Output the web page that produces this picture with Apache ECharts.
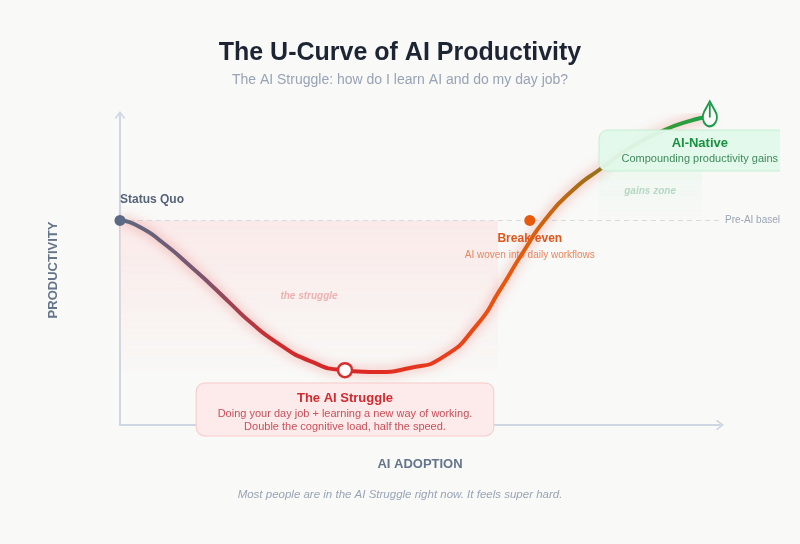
<!DOCTYPE html>
<html lang="en">
<head>
<meta charset="UTF-8">
<title>The U-Curve of AI Productivity</title>
<style>
    body { margin: 0; background: #f9f9f7; }
    #main { width: 780px; height: 544px; }
</style>
</head>
<body>
<div id="main"></div>
<script src="https://cdn.jsdelivr.net/npm/echarts@6.0.0/dist/echarts.min.js"></script>
<script>
// curve (x = adoption 0..100, y = productivity 0..100)
const adoption = [0, 3.3, 7.2, 11.7, 15, 18.3, 21.7, 26.2, 31.7, 37.2, 42.8, 48.3, 53.8, 59.5, 63.3, 67.2, 70.8, 75.5, 80.3, 85, 90, 95, 98.3];
const productivity = [66.1, 63.9, 58.7, 51.3, 45.5, 39.4, 33.2, 26.5, 20.6, 17.7, 17.1, 18.4, 21.9, 32.3, 43.5, 55.8, 66.1, 75.8, 82.9, 89.4, 94.5, 98.1, 99.4];
const baseline = 66;

const milestoneNames = ['Status Quo', 'The AI Struggle', 'Break-even', 'AI-Native'];
const milestoneX = [0, 37.5, 68.3, 98.3];
const milestoneY = [66, 17.7, 66, 99.4];
const milestoneNotes = [
    '',
    'Doing your day job + learning a new way of working.\nDouble the cognitive load, half the speed.',
    'AI woven into daily workflows',
    'Compounding productivity gains'
];

const struggleZone = [[0, 66], [63, 17.1]];
const gainsZone = [[79.7, 66], [97, 85]];

let ff = "'Liberation Sans', Arial, Helvetica, sans-serif";
let chart = echarts.init(document.getElementById('main'));

let curve = adoption.map((x, i) => [x, productivity[i]]);
let pt = i => [milestoneX[i], milestoneY[i]];
let notes = i => milestoneNotes[i].split('\n').map(s => '{d|' + s + '}').join('\n');
let arrowHead = 'path://M0,8 L6,0 L12,8 L10.6,9.2 L6,3 L1.4,9.2 Z';
let pin = 'path://M10,0 L3.5,9 A8,8 0 1,0 16.5,9 Z M10,2.5 L10,14';

let noAxisBits = {
    axisTick: {show: false},
    axisLabel: {show: false},
    splitLine: {show: false}
};
let axisLine = {
    show: true,
    symbol: ['none', arrowHead],
    symbolSize: [12, 8],
    lineStyle: {color: '#cdd6e2', width: 2}
};
let axisName = {fontSize: 13, fontWeight: 'bold', color: '#64748b', fontFamily: ff};

let option = {
    textStyle: {fontFamily: ff},
    animation: false,
    grid: {left: 120, right: 60, top: 115, bottom: 119},
    xAxis: Object.assign({
        type: 'value', min: 0, max: 100,
        axisLine: axisLine,
        name: 'AI ADOPTION', nameLocation: 'middle', nameGap: 33,
        nameTextStyle: axisName
    }, noAxisBits),
    yAxis: Object.assign({
        type: 'value', min: 0, max: 100,
        axisLine: axisLine,
        name: 'PRODUCTIVITY', nameLocation: 'middle', nameGap: 60, nameRotate: 90,
        nameTextStyle: axisName
    }, noAxisBits),
    graphic: [
        {type: 'text', x: 400, y: 53, style: {text: 'The U-Curve of AI Productivity', font: 'bold 25px ' + ff, fill: '#1d2433', textAlign: 'center', textVerticalAlign: 'middle'}},
        {type: 'text', x: 400, y: 80, style: {text: 'The AI Struggle: how do I learn AI and do my day job?', font: '14px ' + ff, fill: '#97a3b6', textAlign: 'center', textVerticalAlign: 'middle'}},
        {type: 'text', x: 400, y: 495, style: {text: 'Most people are in the AI Struggle right now. It feels super hard.', font: 'italic 11.5px ' + ff, fill: '#98a4b6', textAlign: 'center', textVerticalAlign: 'middle'}}
    ],
    series: [
        {
            // zones and the pre-AI baseline, lowest layer
            name: 'zones',
            type: 'scatter', z: 1,
            data: [],
            markLine: {
                z: 1,
                silent: true, symbol: 'none',
                data: [{yAxis: baseline}],
                lineStyle: {type: [5, 4], color: '#d7dbe2', width: 1.2},
                label: {position: 'end', formatter: 'Pre-AI baseline', color: '#9aa5b6', fontSize: 10, distance: 5}
            },
            markArea: {
                z: 1,
                silent: true,
                data: [
                    [{xAxis: struggleZone[0][0], yAxis: struggleZone[0][1],
                      itemStyle: {color: new echarts.graphic.LinearGradient(0, 0, 0, 1, [
                          {offset: 0, color: 'rgba(250,222,222,0.55)'},
                          {offset: 1, color: 'rgba(250,222,222,0.03)'}
                      ])},
                      label: {show: true, position: 'inside', formatter: 'the struggle', fontSize: 10, fontStyle: 'italic', fontWeight: 'bold', color: '#edb1b1'}},
                     {xAxis: struggleZone[1][0], yAxis: struggleZone[1][1]}],
                    [{xAxis: gainsZone[0][0], yAxis: gainsZone[0][1],
                      itemStyle: {color: new echarts.graphic.LinearGradient(0, 0, 0, 1, [
                          {offset: 0, color: 'rgba(228,246,234,0.55)'},
                          {offset: 1, color: 'rgba(228,246,234,0.0)'}
                      ])},
                      label: {show: true, position: 'inside', formatter: 'gains zone', fontSize: 10, fontStyle: 'italic', fontWeight: 'bold', color: '#b5d8c0'}},
                     {xAxis: gainsZone[1][0], yAxis: gainsZone[1][1]}]
                ]
            }
        },
        {
            // break-even sits under the curve
            name: 'break-even',
            type: 'scatter', z: 2,
            data: [{
                value: pt(2), symbol: 'circle', symbolSize: 11,
                itemStyle: {color: '#e8590c', opacity: 1},
                label: {
                    show: true, position: 'bottom', distance: 5, align: 'center',
                    formatter: '{t|' + milestoneNames[2] + '}\n' + notes(2),
                    rich: {
                        t: {fontSize: 12, fontWeight: 'bold', color: '#e0561a', lineHeight: 16, align: 'center'},
                        d: {fontSize: 10, color: '#e98660', lineHeight: 16, align: 'center'}
                    }
                }
            }]
        },
        {
            name: 'productivity',
            type: 'line', z: 3,
            data: curve,
            smooth: 0.6,
            showSymbol: false,
            silent: true,
            lineStyle: {
                width: 4,
                color: new echarts.graphic.LinearGradient(0, 0, 1, 0, [
                    {offset: 0, color: '#5e6a80'},
                    {offset: 0.14, color: '#7a5570'},
                    {offset: 0.26, color: '#cc2c2e'},
                    {offset: 0.4, color: '#dc2626'},
                    {offset: 0.56, color: '#e8401a'},
                    {offset: 0.66, color: '#ea580c'},
                    {offset: 0.73, color: '#c8660f'},
                    {offset: 0.83, color: '#8a741c'},
                    {offset: 0.92, color: '#3a9a35'},
                    {offset: 1, color: '#16a34a'}
                ]),
                shadowBlur: 12,
                shadowColor: 'rgba(225,50,40,0.5)'
            }
        },
        {
            name: 'milestones',
            type: 'scatter', z: 5,
            data: [
                {
                    value: pt(0), symbol: 'circle', symbolSize: 11,
                    itemStyle: {color: '#5b6a82', opacity: 1},
                    label: {show: true, position: 'top', distance: 9, align: 'left',
                        formatter: milestoneNames[0], fontSize: 12, fontWeight: 'bold', color: '#56637a'}
                },
                {
                    value: pt(1), symbol: 'circle', symbolSize: 14,
                    itemStyle: {color: '#ffffff', borderColor: '#d32f2f', borderWidth: 2.5, opacity: 1},
                    label: {
                        show: true, position: 'bottom', distance: 5, align: 'center',
                        formatter: '{t|' + milestoneNames[1] + '}\n' + notes(1),
                        backgroundColor: '#fdeaea', borderColor: '#f8caca', borderWidth: 1, borderRadius: 8,
                        padding: [6, 21, 2, 21],
                        rich: {
                            t: {fontSize: 13, fontWeight: 'bold', color: '#d12a2f', lineHeight: 18, align: 'center'},
                            d: {fontSize: 11, color: '#c8505a', lineHeight: 13, align: 'center'}
                        }
                    }
                },
                {
                    value: pt(3), symbol: pin, symbolSize: [19, 25], symbolOffset: [0, -3], symbolKeepAspect: true,
                    itemStyle: {color: '#f9f9f7', borderColor: '#1a9a4a', borderWidth: 2, opacity: 1},
                    label: {
                        show: true, position: 'bottom', distance: 3, offset: [-10, 0], align: 'center',
                        formatter: '{t|' + milestoneNames[3] + '}\n' + notes(3),
                        backgroundColor: 'rgba(226,249,234,0.95)', borderColor: '#c5efd3', borderWidth: 1, borderRadius: 8,
                        padding: [5, 22, 4, 22],
                        rich: {
                            t: {fontSize: 13, fontWeight: 'bold', color: '#18913f', lineHeight: 16, align: 'center'},
                            d: {fontSize: 11, color: '#3f8a5c', lineHeight: 15, align: 'center'}
                        }
                    }
                }
            ]
        }
    ]
};
chart.setOption(option);
</script>
</body>
</html>
